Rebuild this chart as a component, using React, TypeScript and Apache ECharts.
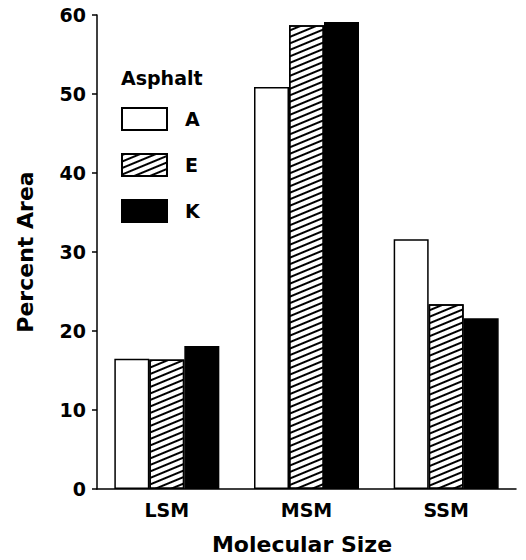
import React, { useEffect, useRef } from "react";
import * as echarts from "echarts";

const categories = ["LSM", "MSM", "SSM"];
const seriesNames = ["A", "E", "K"];
const valuesA = [16.5, 50.9, 31.6];
const valuesE = [16.4, 58.7, 23.4];
const valuesK = [18.1, 59.1, 21.6];
const yTicks = [0, 10, 20, 30, 40, 50, 60];

const FONT = "'DejaVu Sans', Arial, sans-serif";

export default function App() {
  const ref = useRef<HTMLDivElement>(null);
  useEffect(() => {
    if (!ref.current) return;
    const chart = echarts.init(ref.current, undefined, { renderer: "svg" });
    const base = {
      type: "bar" as const,
      barWidth: 35,
      barGap: "0%",
    };
    chart.setOption({
      animation: false,
      backgroundColor: "#fff",
      grid: { left: 97, right: 10, top: 15, bottom: 71, containLabel: false },
      legend: {
        orient: "vertical",
        left: 116,
        top: 102,
        icon: "rect",
        itemWidth: 45,
        itemHeight: 22,
        itemGap: 22,
        data: seriesNames,
        textStyle: { fontFamily: FONT, fontWeight: "bold", fontSize: 19, color: "#000", padding: [0, 0, 0, 13] },
      },
      graphic: [
        {
          type: "text",
          left: 121,
          top: 68,
          style: { text: "Asphalt", font: `bold 19px ${FONT}`, fill: "#000" },
        },
      ],
      xAxis: {
        type: "category",
        data: categories,
        axisLine: { show: true, lineStyle: { color: "#000", width: 1.5 } },
        axisTick: { show: false },
        axisLabel: { margin: 11, fontFamily: FONT, fontWeight: "bold", fontSize: 19, color: "#000" },
        name: "Molecular Size",
        nameLocation: "middle",
        nameGap: 44,
        nameTextStyle: { fontFamily: FONT, fontWeight: "bold", fontSize: 22, color: "#000", padding: [0, 9, 0, 0] },
      },
      yAxis: {
        type: "value",
        min: yTicks[0],
        max: yTicks[yTicks.length - 1],
        interval: 10,
        splitLine: { show: false },
        axisLine: { show: true, lineStyle: { color: "#000", width: 1.5 } },
        axisTick: { show: true, length: 5, lineStyle: { color: "#000", width: 1.5 } },
        axisLabel: { margin: 11, fontFamily: FONT, fontWeight: "bold", fontSize: 19, color: "#000" },
        name: "Percent Area",
        nameLocation: "middle",
        nameGap: 61,
        nameTextStyle: { fontFamily: FONT, fontWeight: "bold", fontSize: 22, color: "#000" },
      },
      series: [
        {
          ...base,
          name: seriesNames[0],
          data: valuesA,
          itemStyle: { color: "#fff", borderColor: "#000", borderWidth: 1.5 },
        },
        {
          ...base,
          name: seriesNames[1],
          data: valuesE,
          itemStyle: {
            color: "#fff",
            borderColor: "#000",
            borderWidth: 1.5,
            decal: {
              symbol: "rect",
              color: "#000",
              backgroundColor: "#fff",
              dashArrayX: [1, 0],
              dashArrayY: [2, 4],
              rotation: -Math.PI / 8,
            },
          },
        },
        {
          ...base,
          name: seriesNames[2],
          data: valuesK,
          itemStyle: { color: "#000", borderColor: "#000", borderWidth: 1.5 },
        },
      ],
    });
    return () => chart.dispose();
  }, []);
  return <div ref={ref} style={{ width: 526, height: 560, margin: -8 }} />;
}
